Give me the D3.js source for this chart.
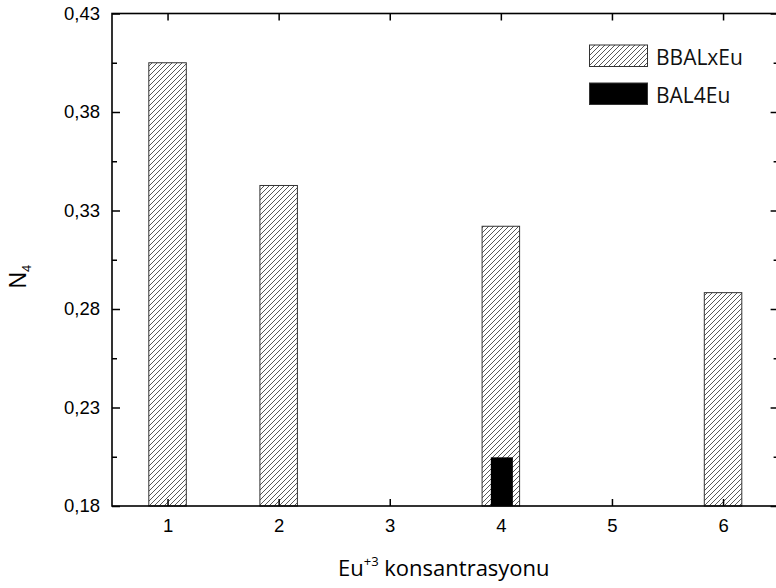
<!DOCTYPE html>
<html>
<head>
<meta charset="utf-8">
<script src="https://cdn.jsdelivr.net/npm/d3@7"></script>
<style>
  body { margin: 0; background: #fff; }
  svg { display: block; }
  .tick text { font-family: "Liberation Sans", Arial, sans-serif; font-size: 18.5px; }
</style>
</head>
<body>
<script>
// veriler
const kategoriler = [1, 2, 3, 4, 5, 6];
const bbalxeu = [
  {x: 1, y: 0.405},
  {x: 2, y: 0.3427},
  {x: 4, y: 0.322},
  {x: 6, y: 0.2883}
];
const bal4eu = [
  {x: 4, y: 0.2047}
];
const yTickler = [0.18, 0.23, 0.28, 0.33, 0.38, 0.43];
const yAraTickler = [0.205, 0.255, 0.305, 0.355, 0.405];

const W = 776, H = 588;
const x = d3.scaleLinear().domain([0.5, 6.5]).range([112, 778.6]);
const y = d3.scaleLinear().domain([0.18, 0.43]).range([506, 13.5]);
const fmt = d => d.toFixed(2).replace('.', ',');

const svg = d3.select('body').append('svg')
  .attr('width', W).attr('height', H);

// tarama deseni
const defs = svg.append('defs');
const pat = defs.append('pattern')
  .attr('id', 'tarama')
  .attr('patternUnits', 'userSpaceOnUse')
  .attr('width', 5).attr('height', 5);
pat.append('path')
  .attr('d', 'M-1,1 l2,-2 M0,5 l5,-5 M4,6 l2,-2')
  .attr('stroke', '#444')
  .attr('stroke-width', 0.9);

// cubuklar
const bw = 37.5;
svg.append('g').selectAll('rect')
  .data(bbalxeu)
  .join('rect')
  .attr('x', d => x(d.x) - bw / 2)
  .attr('y', d => y(d.y))
  .attr('width', bw)
  .attr('height', d => y(0.18) - y(d.y))
  .attr('fill', 'url(#tarama)')
  .attr('stroke', '#333')
  .attr('stroke-width', 1);

const bw2 = 22;
svg.append('g').selectAll('rect')
  .data(bal4eu)
  .join('rect')
  .attr('x', d => x(d.x) - bw2 / 2 + 1)
  .attr('y', d => y(d.y))
  .attr('width', bw2)
  .attr('height', d => y(0.18) - y(d.y))
  .attr('fill', '#000');

// eksenler
const axisStyle = g => {
  g.select('.domain').remove();
  g.selectAll('.tick line').attr('stroke', '#000').attr('stroke-width', 1.5);
  g.selectAll('.tick text').attr('fill', '#000');
};

svg.append('g')
  .attr('transform', `translate(0,${y(0.18)})`)
  .call(d3.axisBottom(x).tickValues(kategoriler).tickSizeInner(-7).tickPadding(13).tickFormat(d3.format('d')))
  .call(axisStyle);
svg.append('g')
  .attr('transform', `translate(0,${y(0.43)})`)
  .call(d3.axisTop(x).tickValues(kategoriler).tickSizeInner(-7).tickFormat(''))
  .call(axisStyle);

svg.append('g')
  .attr('transform', `translate(${x(0.5)},0)`)
  .call(d3.axisLeft(y).tickValues(yTickler).tickSizeInner(-8).tickPadding(12).tickFormat(fmt))
  .call(axisStyle);
svg.append('g')
  .attr('transform', `translate(${x(0.5)},0)`)
  .call(d3.axisLeft(y).tickValues(yAraTickler).tickSizeInner(-5).tickFormat(''))
  .call(axisStyle);
svg.append('g')
  .attr('transform', `translate(${x(6.5)},0)`)
  .call(d3.axisRight(y).tickValues(yTickler).tickSizeInner(-8).tickFormat(''))
  .call(axisStyle);
svg.append('g')
  .attr('transform', `translate(${x(6.5)},0)`)
  .call(d3.axisRight(y).tickValues(yAraTickler).tickSizeInner(-5).tickFormat(''))
  .call(axisStyle);

// cerceve
svg.append('rect')
  .attr('x', x(0.5)).attr('y', y(0.43))
  .attr('width', x(6.5) - x(0.5)).attr('height', y(0.18) - y(0.43))
  .attr('fill', 'none').attr('stroke', '#000').attr('stroke-width', 1.6);

// eksen basliklari
const xt = svg.append('text')
  .attr('x', 338).attr('y', 576)
  .style('font-family', '"Open Sans", sans-serif')
  .style('font-size', '22px')
  .attr('fill', '#000');
xt.append('tspan').text('Eu');
xt.append('tspan').attr('dy', -10).style('font-size', '13px').text('+3');
xt.append('tspan').attr('dy', 10).text(' konsantrasyonu');

const yt = svg.append('text')
  .attr('transform', 'translate(26,288.5) rotate(-90)')
  .style('font-family', '"Liberation Sans", Arial, sans-serif')
  .style('font-size', '23px')
  .attr('fill', '#000');
yt.append('tspan').text('N');
yt.append('tspan').attr('dy', 5).style('font-size', '13px').text('4');

// lejant
const leg = [
  {ad: 'BBALxEu', fill: 'url(#tarama)', y: 45},
  {ad: 'BAL4Eu', fill: '#000', y: 83}
];
const lg = svg.append('g');
lg.selectAll('rect')
  .data(leg)
  .join('rect')
  .attr('x', 589.5).attr('y', d => d.y)
  .attr('width', 58).attr('height', 21.5)
  .attr('fill', d => d.fill)
  .attr('stroke', '#333').attr('stroke-width', 1);
lg.selectAll('text')
  .data(leg)
  .join('text')
  .attr('x', 656).attr('y', d => d.y + 19.5)
  .style('font-family', '"Open Sans", sans-serif')
  .style('font-size', '21px')
  .attr('fill', '#111')
  .text(d => d.ad);
</script>
</body>
</html>
